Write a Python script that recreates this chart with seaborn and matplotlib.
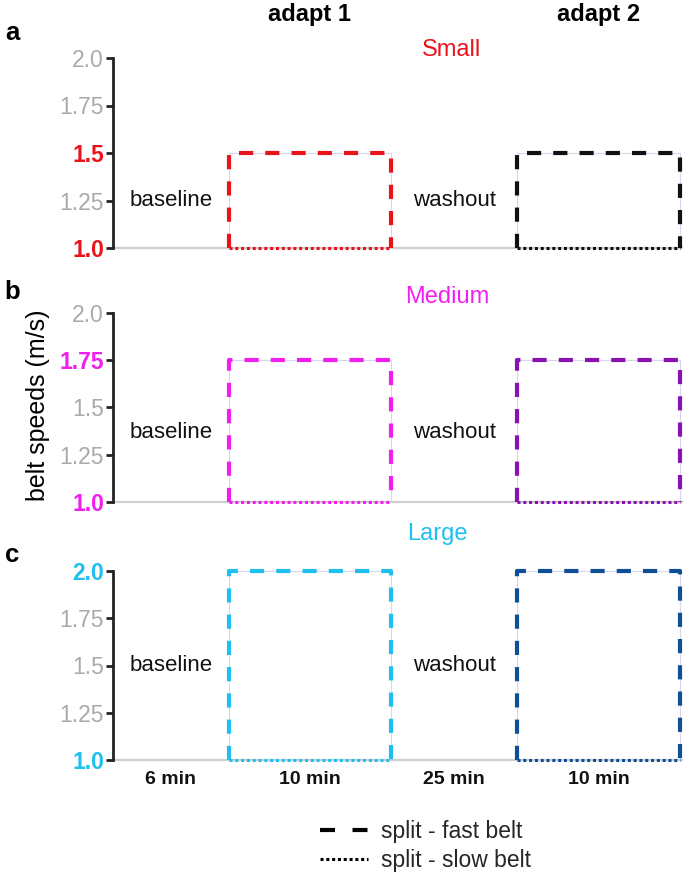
import numpy as np
import pandas as pd
import matplotlib
matplotlib.use("Agg")
import matplotlib.pyplot as plt
import seaborn as sns

sns.set_theme(style="white")
plt.rcParams['font.family'] = ['Liberation Sans', 'DejaVu Sans']

# ---- data ----
conditions = ["Small", "Medium", "Large"]
panel_letters = ["a", "b", "c"]
fast_speeds = [1.5, 1.75, 2.0]
slow_speed = 1.0
adapt1_colors = ["#e8131b", "#f21ef0", "#1fc0ef"]
adapt2_colors = ["#111111", "#8a12b0", "#0e4f98"]
period_names = ["baseline", "adapt 1", "washout", "adapt 2"]
durations = ["6 min", "10 min", "25 min", "10 min"]
seg_widths = [1.0, 1.4, 1.09, 1.4]
yticks = [1.0, 1.25, 1.5, 1.75, 2.0]
ytick_labels = ["1.0", "1.25", "1.5", "1.75", "2.0"]

edges = np.concatenate([[0], np.cumsum(seg_widths)])
centers = (edges[:-1] + edges[1:]) / 2
xmax = edges[-1] + 0.03

fig = plt.figure(figsize=(6.85, 8.89), dpi=100)
W, H = 685, 889
panel_px = [(58, 248), (313, 502), (571, 760)]
left_px, right_px = 113, 683

DASH = (3.4, 2.9)
DOT = (1.0, 0.9)

def seg(ax, xs, ys, color, lw, dashes=None, z=3):
    df = pd.DataFrame({"x": xs, "y": ys})
    kw = dict(data=df, x="x", y="y", ax=ax, color=color, linewidth=lw,
              sort=False, estimator=None, legend=False)
    line = sns.lineplot(**kw).lines[-1]
    if dashes is not None:
        line.set_dashes(dashes)
    line.set_clip_on(False)
    line.set_zorder(z)
    line.set_solid_capstyle("butt")
    line.set_dash_capstyle("butt")
    return line

axes = []
for i, (top, bot) in enumerate(panel_px):
    ax = fig.add_axes([left_px / W, 1 - bot / H, (right_px - left_px) / W, (bot - top) / H])
    axes.append(ax)
    ax.set_xlim(0, xmax)
    ax.set_ylim(1.0, 2.0)
    for s in ["top", "right", "bottom"]:
        ax.spines[s].set_visible(False)
    ax.spines["left"].set_color("#222222")
    ax.spines["left"].set_linewidth(2.0)
    ax.set_xticks([])
    ax.set_yticks(yticks)
    ax.set_yticklabels(ytick_labels)
    ax.tick_params(axis="y", direction="out", length=5, width=2, color="#222222",
                   labelsize=16.5, pad=1.5, left=True)
    for lab, v in zip(ax.get_yticklabels(), yticks):
        if v == slow_speed or v == fast_speeds[i]:
            lab.set_color(adapt1_colors[i])
            lab.set_fontweight("bold")
        else:
            lab.set_color("#aaaaaa")
    # baseline gray line
    seg(ax, [0, xmax], [slow_speed, slow_speed], "#cfcfcf", 1.6, z=1)
    # adapt boxes
    for k, col in [(1, adapt1_colors[i]), (3, adapt2_colors[i])]:
        x0, x1 = edges[k], edges[k + 1]
        f = fast_speeds[i]
        seg(ax, [x0, x0, x1, x1], [slow_speed, f, f, slow_speed], "#d6d6ee", 0.8, z=2)
        seg(ax, [x0, x0, x1, x1], [slow_speed, f, f, slow_speed], col, 3.0, dashes=DASH)
        seg(ax, [x0, x1], [slow_speed, slow_speed], col, 2.2, dashes=DOT)
    ax.set_xlabel("")
    ax.set_ylabel("")
    ty = [1.25, 1.37, 1.5][i]
    ax.text(centers[0], ty, period_names[0], ha="center", va="center", fontsize=16, color="#111111")
    ax.text(centers[2], ty, period_names[2], ha="center", va="center", fontsize=16, color="#111111")

title_pos = [(452, 50), (447, 297), (437, 534)]
for (x, y), name, col in zip(title_pos, conditions, adapt1_colors):
    fig.text(x / W, 1 - y / H, name, ha="center", va="center", fontsize=17, color=col)

for y, l in zip([33, 292, 555], panel_letters):
    fig.text(12 / W, 1 - y / H, l, ha="center", va="center", fontsize=18.5, fontweight="bold", color="black")

for k in [1, 3]:
    xd = axes[0].transData.transform((centers[k], 1.0))[0]
    fig.text(xd / W, 1 - 15 / H, period_names[k], ha="center", va="center",
             fontsize=17, fontweight="bold", color="black")

for k, d in enumerate(durations):
    axes[2].text(centers[k], -0.105, d, transform=axes[2].get_xaxis_transform(),
                 ha="center", va="center", fontsize=14, fontweight="bold", color="#111111")

fig.text(38 / W, 1 - 405 / H, "belt speeds (m/s)", rotation=90, ha="center", va="center",
         fontsize=18, color="black")

from matplotlib.lines import Line2D
h1 = Line2D([0], [0], color="black", lw=3.0, dashes=(3.6, 4.2))
h2 = Line2D([0], [0], color="black", lw=2.2, dashes=(1.0, 0.9))
fig.legend([h1, h2], ["split - fast belt", "split - slow belt"],
           loc="center left", bbox_to_anchor=(320 / W, 1 - 846 / H),
           frameon=False, fontsize=16.5, handlelength=2.1, handletextpad=0.55,
           labelspacing=0.3, borderaxespad=0, borderpad=0)

fig.savefig("out.png", dpi=100)
